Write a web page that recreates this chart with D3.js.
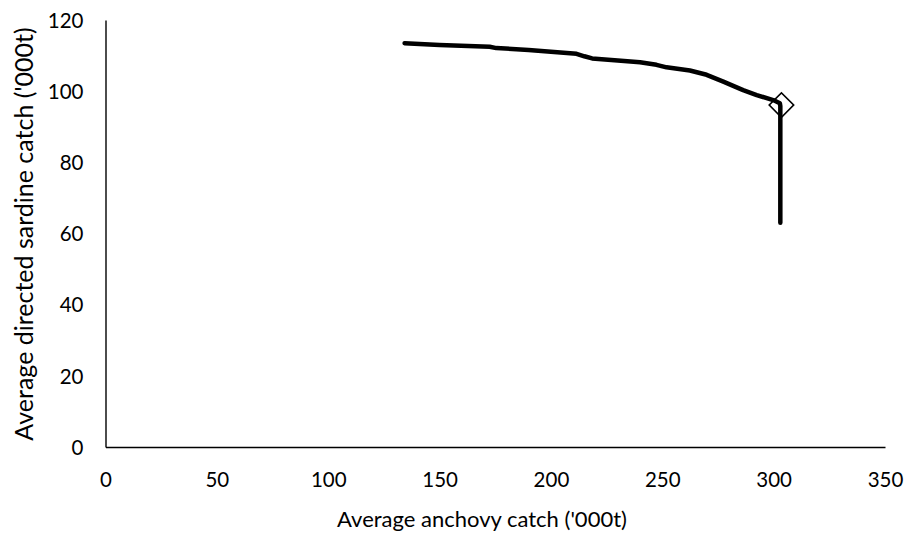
<!DOCTYPE html>
<html>
<head>
<meta charset="utf-8">
<script src="https://cdn.jsdelivr.net/npm/d3@7"></script>
<style>
  html, body { margin: 0; padding: 0; background: #fff; }
  svg { display: block; font-family: Lato, "Open Sans", sans-serif; }
</style>
</head>
<body>
<svg id="chart" width="909" height="535"></svg>
<script>
// Trade-off curve: average anchovy catch vs average directed sardine catch ('000t)
const anchovyCatch = [134.3, 150, 172.5, 175.5, 190, 200, 211.5, 215, 218.5, 230, 240, 247.4, 251.9, 262.4, 269.9, 277.4, 286.3, 292.4, 299.8, 302.8, 303.0, 303.0];
const sardineCatch = [113.5, 113.0, 112.5, 112.1, 111.6, 111.1, 110.5, 109.8, 109.2, 108.6, 108.1, 107.4, 106.7, 105.8, 104.6, 102.7, 100.3, 98.9, 97.5, 96.6, 95.8, 63.0];

// Highlighted operating point
const markerAnchovy = [303.5];
const markerSardine = [96.1];

const xTicks = [0, 50, 100, 150, 200, 250, 300, 350];
const yTicks = [0, 20, 40, 60, 80, 100, 120];

(function draw() {
  const svg = d3.select("#chart");
  const plotLeft = 105.5, plotRight = 885, plotTop = 20, plotBottom = 447;

  const x = d3.scaleLinear().domain([0, 350]).range([plotLeft, plotRight]);
  const y = d3.scaleLinear().domain([0, 120]).range([plotBottom, plotTop]);

  // Axes without tick marks
  const xAxis = d3.axisBottom(x).tickValues(xTicks).tickSize(0).tickPadding(30);
  const yAxis = d3.axisLeft(y).tickValues(yTicks).tickSize(0).tickPadding(22);

  const gx = svg.append("g").attr("transform", `translate(0,${plotBottom})`).call(xAxis);
  const gy = svg.append("g").attr("transform", `translate(${plotLeft},0)`).call(yAxis);

  [gx, gy].forEach(g => {
    g.select(".domain").attr("stroke", "#000").attr("stroke-width", 1.4);
    g.selectAll("text").attr("fill", "#000").style("font-size", "20.5px")
      .style("font-family", "Lato, 'Open Sans', sans-serif");
  });
  gy.selectAll("text").attr("dy", "0.35em");
  gx.selectAll("text").attr("dy", "0.5em");

  // Axis titles
  svg.append("text")
    .attr("x", 482)
    .attr("y", 527)
    .attr("text-anchor", "middle")
    .style("font-size", "22px")
    .text("Average anchovy catch ('000t)");

  svg.append("text")
    .attr("transform", `translate(33,234) rotate(-90)`)
    .attr("text-anchor", "middle")
    .style("font-size", "25px")
    .text("Average directed sardine catch ('000t)");

  // Curve
  const pts = anchovyCatch.map((a, i) => [a, sardineCatch[i]]);
  svg.append("path")
    .datum(pts)
    .attr("fill", "none")
    .attr("stroke", "#000")
    .attr("stroke-width", 4.5)
    .attr("stroke-linecap", "round")
    .attr("stroke-linejoin", "round")
    .attr("d", d3.line().x(d => x(d[0])).y(d => y(d[1])));

  // Diamond marker
  const diamond = d3.symbol().type(d3.symbolSquare).size(300);
  svg.selectAll(".marker")
    .data(markerAnchovy.map((a, i) => [a, markerSardine[i]]))
    .join("path")
    .attr("class", "marker")
    .attr("d", diamond)
    .attr("transform", d => `translate(${x(d[0])},${y(d[1])}) rotate(45)`)
    .attr("fill", "none")
    .attr("stroke", "#000")
    .attr("stroke-width", 1.6);
})();
</script>
</body>
</html>
